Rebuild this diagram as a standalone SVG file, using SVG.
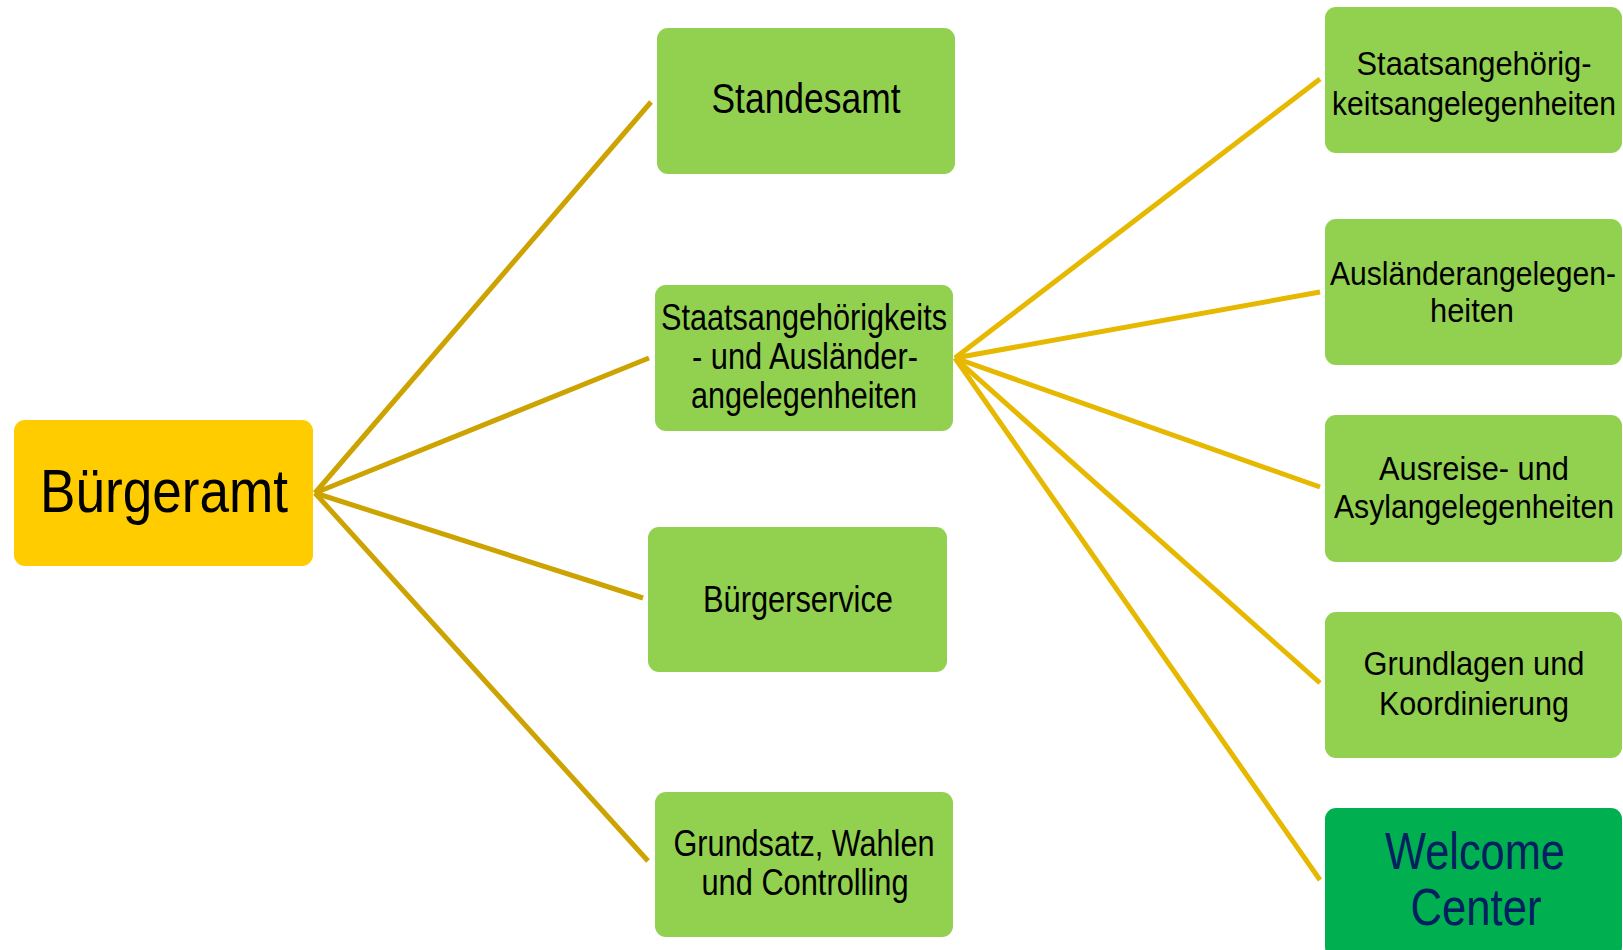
<svg xmlns="http://www.w3.org/2000/svg" width="1623" height="950" viewBox="0 0 1623 950">
<style>
  text { font-family: "Liberation Sans", Arial, sans-serif; text-anchor: middle; fill: #000; }
  .box { fill: #92D050; }
  .l1 { stroke: #CCA300; stroke-width: 5; fill: none; stroke-linecap: butt; }
  .l2 { stroke: #E6B800; stroke-width: 5; fill: none; stroke-linecap: butt; }
  .m { font-size: 37px; }
  .r { font-size: 34px; }
</style>
<rect width="1623" height="950" fill="#FFFFFF"/>
<g id="connectors">
  <line class="l1" x1="315" y1="493" x2="651" y2="102"/>
  <line class="l1" x1="315" y1="493" x2="649" y2="358"/>
  <line class="l1" x1="315" y1="493" x2="643" y2="598"/>
  <line class="l1" x1="315" y1="493" x2="648" y2="861"/>
  <line class="l2" x1="955" y1="358" x2="1320" y2="79"/>
  <line class="l2" x1="955" y1="358" x2="1320" y2="292"/>
  <line class="l2" x1="955" y1="358" x2="1320" y2="487"/>
  <line class="l2" x1="955" y1="358" x2="1320" y2="683"/>
  <line class="l2" x1="955" y1="358" x2="1320" y2="880"/>
</g>
<g id="buergeramt">
  <rect x="14" y="420" width="299" height="146" rx="11" fill="#FFCC00"/>
  <text x="164" y="512" font-size="61" textLength="248" lengthAdjust="spacingAndGlyphs">Bürgeramt</text>
</g>
<g id="standesamt">
  <rect class="box" x="657" y="28" width="298" height="146" rx="11"/>
  <text x="806" y="113" font-size="42" textLength="189" lengthAdjust="spacingAndGlyphs">Standesamt</text>
</g>
<g id="staats-auslaender">
  <rect class="box" x="655" y="285" width="298" height="146" rx="11"/>
  <text class="m" x="804" y="330" textLength="286" lengthAdjust="spacingAndGlyphs">Staatsangehörigkeits</text>
  <text class="m" x="805" y="369" textLength="226" lengthAdjust="spacingAndGlyphs">- und Ausländer-</text>
  <text class="m" x="804" y="408" textLength="226" lengthAdjust="spacingAndGlyphs">angelegenheiten</text>
</g>
<g id="buergerservice">
  <rect class="box" x="648" y="527" width="299" height="145" rx="11"/>
  <text class="m" x="798" y="612" textLength="190" lengthAdjust="spacingAndGlyphs">Bürgerservice</text>
</g>
<g id="grundsatz">
  <rect class="box" x="655" y="792" width="298" height="145" rx="11"/>
  <text class="m" x="804" y="856" textLength="261" lengthAdjust="spacingAndGlyphs">Grundsatz, Wahlen</text>
  <text class="m" x="805" y="895" textLength="207" lengthAdjust="spacingAndGlyphs">und Controlling</text>
</g>
<g id="staatsangehoerigkeit">
  <rect class="box" x="1325" y="7" width="297" height="146" rx="11"/>
  <text class="r" x="1474" y="75" textLength="235" lengthAdjust="spacingAndGlyphs">Staatsangehörig-</text>
  <text class="r" x="1474" y="115" textLength="284" lengthAdjust="spacingAndGlyphs">keitsangelegenheiten</text>
</g>
<g id="auslaender">
  <rect class="box" x="1325" y="219" width="297" height="146" rx="11"/>
  <text class="r" x="1473" y="285" textLength="286" lengthAdjust="spacingAndGlyphs">Ausländerangelegen-</text>
  <text class="r" x="1472" y="322" textLength="84" lengthAdjust="spacingAndGlyphs">heiten</text>
</g>
<g id="ausreise-asyl">
  <rect class="box" x="1325" y="415" width="297" height="147" rx="11"/>
  <text class="r" x="1474" y="480" textLength="190" lengthAdjust="spacingAndGlyphs">Ausreise- und</text>
  <text class="r" x="1474" y="518" textLength="280" lengthAdjust="spacingAndGlyphs">Asylangelegenheiten</text>
</g>
<g id="grundlagen">
  <rect class="box" x="1325" y="612" width="297" height="146" rx="11"/>
  <text class="r" x="1474" y="675" textLength="221" lengthAdjust="spacingAndGlyphs">Grundlagen und</text>
  <text class="r" x="1474" y="715" textLength="190" lengthAdjust="spacingAndGlyphs">Koordinierung</text>
</g>
<g id="welcome-center">
  <rect x="1325" y="808" width="297" height="150" rx="11" fill="#00B050"/>
  <text x="1475" y="869" font-size="52" style="fill:#002060" textLength="180" lengthAdjust="spacingAndGlyphs">Welcome</text>
  <text x="1476" y="925" font-size="52" style="fill:#002060" textLength="131" lengthAdjust="spacingAndGlyphs">Center</text>
</g>
</svg>
